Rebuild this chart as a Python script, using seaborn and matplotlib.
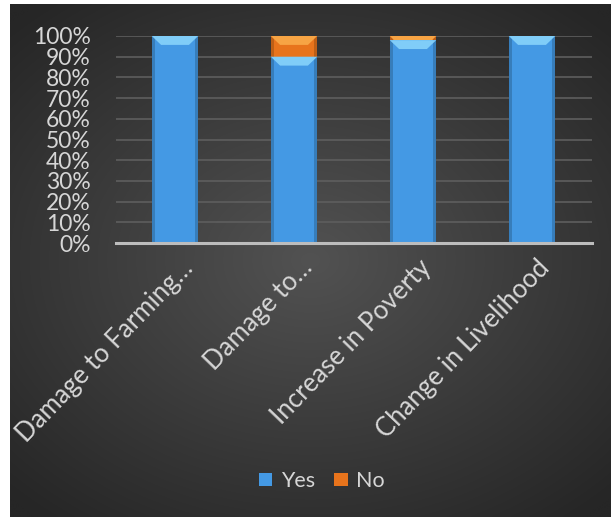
import numpy as np
import pandas as pd
import matplotlib
matplotlib.use("Agg")
import matplotlib.pyplot as plt
from matplotlib.patches import Patch, Polygon
from matplotlib.transforms import ScaledTranslation
import seaborn as sns

# Survey responses (% of respondents)
categories = ["Damage to Farming…", "Damage to…", "Increase in Poverty", "Change in Livelihood"]
yes_pct = [100, 90, 98, 100]
no_pct = [0, 10, 2, 0]
y_ticks = [0, 10, 20, 30, 40, 50, 60, 70, 80, 90, 100]

BLUE = "#4499e4"
BLUE_HI = "#80cdf8"
ORANGE = "#e8741c"
ORANGE_HI = "#f7a444"
TEXT = "#d6d6d6"

sns.set_theme(style="dark")
plt.rcParams["font.family"] = ["Lato", "DejaVu Sans"]

df = pd.DataFrame({"category": categories, "Yes": yes_pct, "No": no_pct})
df["total"] = df["Yes"] + df["No"]

fig = plt.figure(figsize=(6.11, 5.17), dpi=100, facecolor="white")

# Dark radial-gradient panel behind the chart
bg = fig.add_axes([10 / 611, 0, 601 / 611, 513 / 517], zorder=0)
yy, xx = np.mgrid[-1:1:300j, -1:1:360j]
r = np.clip(np.sqrt((xx * 0.95) ** 2 + (yy * 1.05) ** 2) / 1.35, 0, 1)
inner = np.array([0x52, 0x52, 0x52]) / 255
outer = np.array([0x26, 0x26, 0x26]) / 255
img = inner[None, None, :] * (1 - r[..., None]) + outer[None, None, :] * r[..., None]
bg.imshow(img, aspect="auto", extent=[0, 1, 0, 1], interpolation="bicubic")
bg.set_axis_off()

ax = fig.add_axes([115.5 / 611, 274 / 517, 476 / 611, 207 / 517], zorder=1)
ax.patch.set_alpha(0)

sns.barplot(data=df, x="category", y="total", color=ORANGE, saturation=1,
            width=0.39, ax=ax, zorder=3, linewidth=0)
n_orange = len(ax.patches)
sns.barplot(data=df, x="category", y="Yes", color=BLUE, saturation=1,
            width=0.39, ax=ax, zorder=4, linewidth=0)

# Bevel on top of each bar segment, derived from the drawn patches
for i, p in enumerate(list(ax.patches)):
    x0, y0 = p.get_x(), p.get_y()
    w, h = p.get_width(), p.get_height()
    if h <= 0:
        continue
    hi = ORANGE_HI if i < n_orange else BLUE_HI
    bev_h = min(h, 4.3)
    inset = w * 0.2
    ax.add_patch(Polygon([(x0, y0 + h), (x0 + w, y0 + h),
                          (x0 + w - inset, y0 + h - bev_h), (x0 + inset, y0 + h - bev_h)],
                         closed=True, facecolor=hi, edgecolor="none",
                         zorder=p.get_zorder() + 0.5))
    # darker side edges
    for xe in (x0, x0 + w * 0.94):
        ax.add_patch(Polygon([(xe, y0), (xe + w * 0.06, y0),
                              (xe + w * 0.06, y0 + h), (xe, y0 + h)],
                             closed=True, facecolor="black", edgecolor="none", alpha=0.18,
                             zorder=p.get_zorder() + 0.4))

ax.set_xlim(-0.5, len(categories) - 0.5)
ax.set_ylim(0, 100)
ax.set_yticks(y_ticks)
ax.set_yticklabels([f"{t}%" for t in y_ticks])
ax.yaxis.grid(True, color="#5e5e5e", linewidth=1.2, zorder=1)
ax.xaxis.grid(False)
ax.set_axisbelow(True)
for s in ["top", "right", "left"]:
    ax.spines[s].set_visible(False)
ax.spines["bottom"].set_color("#bdbdbd")
ax.spines["bottom"].set_linewidth(2.2)
ax.spines["bottom"].set_zorder(6)
ax.set_xlabel("")
ax.set_ylabel("")
ax.tick_params(axis="y", length=0, pad=18, labelsize=16.5, labelcolor=TEXT)
ax.tick_params(axis="x", length=0, pad=15, labelsize=18.5, labelcolor=TEXT)
for lbl in ax.get_xticklabels():
    lbl.set_rotation(46)
    lbl.set_ha("right")
    lbl.set_va("center")
    lbl.set_rotation_mode("anchor")
    lbl.set_transform(lbl.get_transform() + ScaledTranslation(0.14, 0, fig.dpi_scale_trans))

handles = [Patch(facecolor=BLUE, edgecolor="none", label="Yes"),
           Patch(facecolor=ORANGE, edgecolor="none", label="No")]
leg = fig.legend(handles=handles, loc="center", bbox_to_anchor=(0.527, 0.07), ncol=2,
                 frameon=False, fontsize=15.5, labelcolor=TEXT, handlelength=0.62,
                 handleheight=0.55, handletextpad=0.4, columnspacing=0.9)

fig.savefig("out.png", dpi=100, facecolor="white")
